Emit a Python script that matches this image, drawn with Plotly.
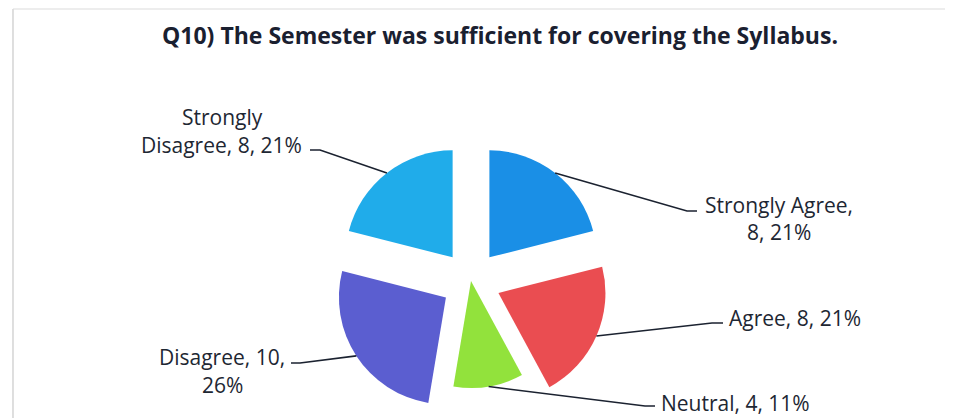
import math
import plotly.graph_objects as go

# ---- data ----
categories = ["Strongly Agree", "Agree", "Neutral", "Disagree", "Strongly Disagree"]
counts = [8, 8, 4, 10, 8]
colors = ["#1a8fe6", "#ea4d51", "#92e23c", "#5b5ed0", "#20acea"]
pulls = [0.28, 0.28, 0.0, 0.28, 0.28]

title_text = "Q10) The Semester was sufficient for covering the Syllabus."

# figure is placed by the page with an 8px body margin; work in screen pixels
OX, OY = 8, 8
W, H = 950, 410
CX, CY, R = 471, 281, 107
max_pull = max(pulls)
half = R * (1 + max_pull)

def px(x):
    return (x - OX) / W

def py(y):
    return 1 - (y - OY) / H

def clamp(v):
    return min(1.0, max(0.0, v))

fig = go.Figure(go.Pie(
    labels=categories,
    values=counts,
    marker=dict(colors=colors, line=dict(width=0)),
    pull=pulls,
    sort=False,
    direction="clockwise",
    rotation=0,
    textinfo="none",
    hoverinfo="label+value+percent",
    showlegend=False,
    domain=dict(x=[clamp(px(CX - half)), clamp(px(CX + half))],
                y=[clamp(py(CY + half)), clamp(py(CY - half))]),
))

total = sum(counts)
pcts = [round(100 * c / total) for c in counts]

FS = 21
# label layout (screen-pixel positions of leader-line elbows/ends and label text)
label_layout = {
    "Strongly Agree": dict(elbow=(687, 211), end=(697, 211),
                           lines=[("Strongly Agree,", 779, 205, "center"),
                                  (f"{counts[0]}, {pcts[0]}%", 779, 232, "center")]),
    "Agree": dict(elbow=(712, 323), end=(723, 323),
                  lines=[(f"Agree, {counts[1]}, {pcts[1]}%", 727, 318, "left")]),
    "Neutral": dict(elbow=(645, 406), end=(655, 406),
                    lines=[(f"Neutral, {counts[2]}, {pcts[2]}%", 659, 403, "left")]),
    "Disagree": dict(elbow=(300, 363), end=(291, 363),
                     lines=[(f"Disagree, {counts[3]},", 222, 357, "center"),
                            (f"{pcts[3]}%", 222, 385, "center")]),
    "Strongly Disagree": dict(elbow=(320, 150), end=(310, 150),
                              lines=[("Strongly", 222, 117, "center"),
                                     (f"Disagree, {counts[4]}, {pcts[4]}%", 221, 145, "center")]),
}

shapes = []
annotations = []
cum = 0
for cat, c, p in zip(categories, counts, pulls):
    mid = (cum + c / 2) / total * 2 * math.pi
    cum += c
    rr = R * (1 + p)
    ax = CX + rr * math.sin(mid)
    ay = CY - rr * math.cos(mid)
    lay = label_layout[cat]
    ex, ey = lay["elbow"]
    fx, fy = lay["end"]
    path = f"M {px(ax)},{py(ay)} L {px(ex)},{py(ey)} L {px(fx)},{py(fy)}"
    shapes.append(dict(type="path", xref="paper", yref="paper", path=path,
                       line=dict(color="#1b2230", width=1.6)))
    for txt, tx, ty, anc in lay["lines"]:
        annotations.append(dict(text=txt, x=px(tx), y=py(ty), xref="paper", yref="paper",
                                xanchor=anc, yanchor="middle", showarrow=False,
                                font=dict(family="Open Sans", size=FS, color="#1e2733")))

annotations.append(dict(text=f"<b>{title_text}</b>", x=px(500), y=py(35), xref="paper",
                        yref="paper", xanchor="center", yanchor="middle", showarrow=False,
                        font=dict(family="Open Sans", size=23, color="#1a2030")))

# chart area border (left and top edges visible)
shapes.append(dict(type="line", xref="paper", yref="paper", x0=px(13), x1=px(13),
                   y0=py(9), y1=0, line=dict(color="#c9c9c9", width=1.2)))
shapes.append(dict(type="line", xref="paper", yref="paper", x0=px(13), x1=px(945),
                   y0=py(9), y1=py(9), line=dict(color="#dcdcdc", width=1.2)))

fig.update_layout(
    width=W, height=H,
    margin=dict(l=0, r=0, t=0, b=0),
    paper_bgcolor="white", plot_bgcolor="white",
    shapes=shapes, annotations=annotations,
)

fig.write_html("out.html")
